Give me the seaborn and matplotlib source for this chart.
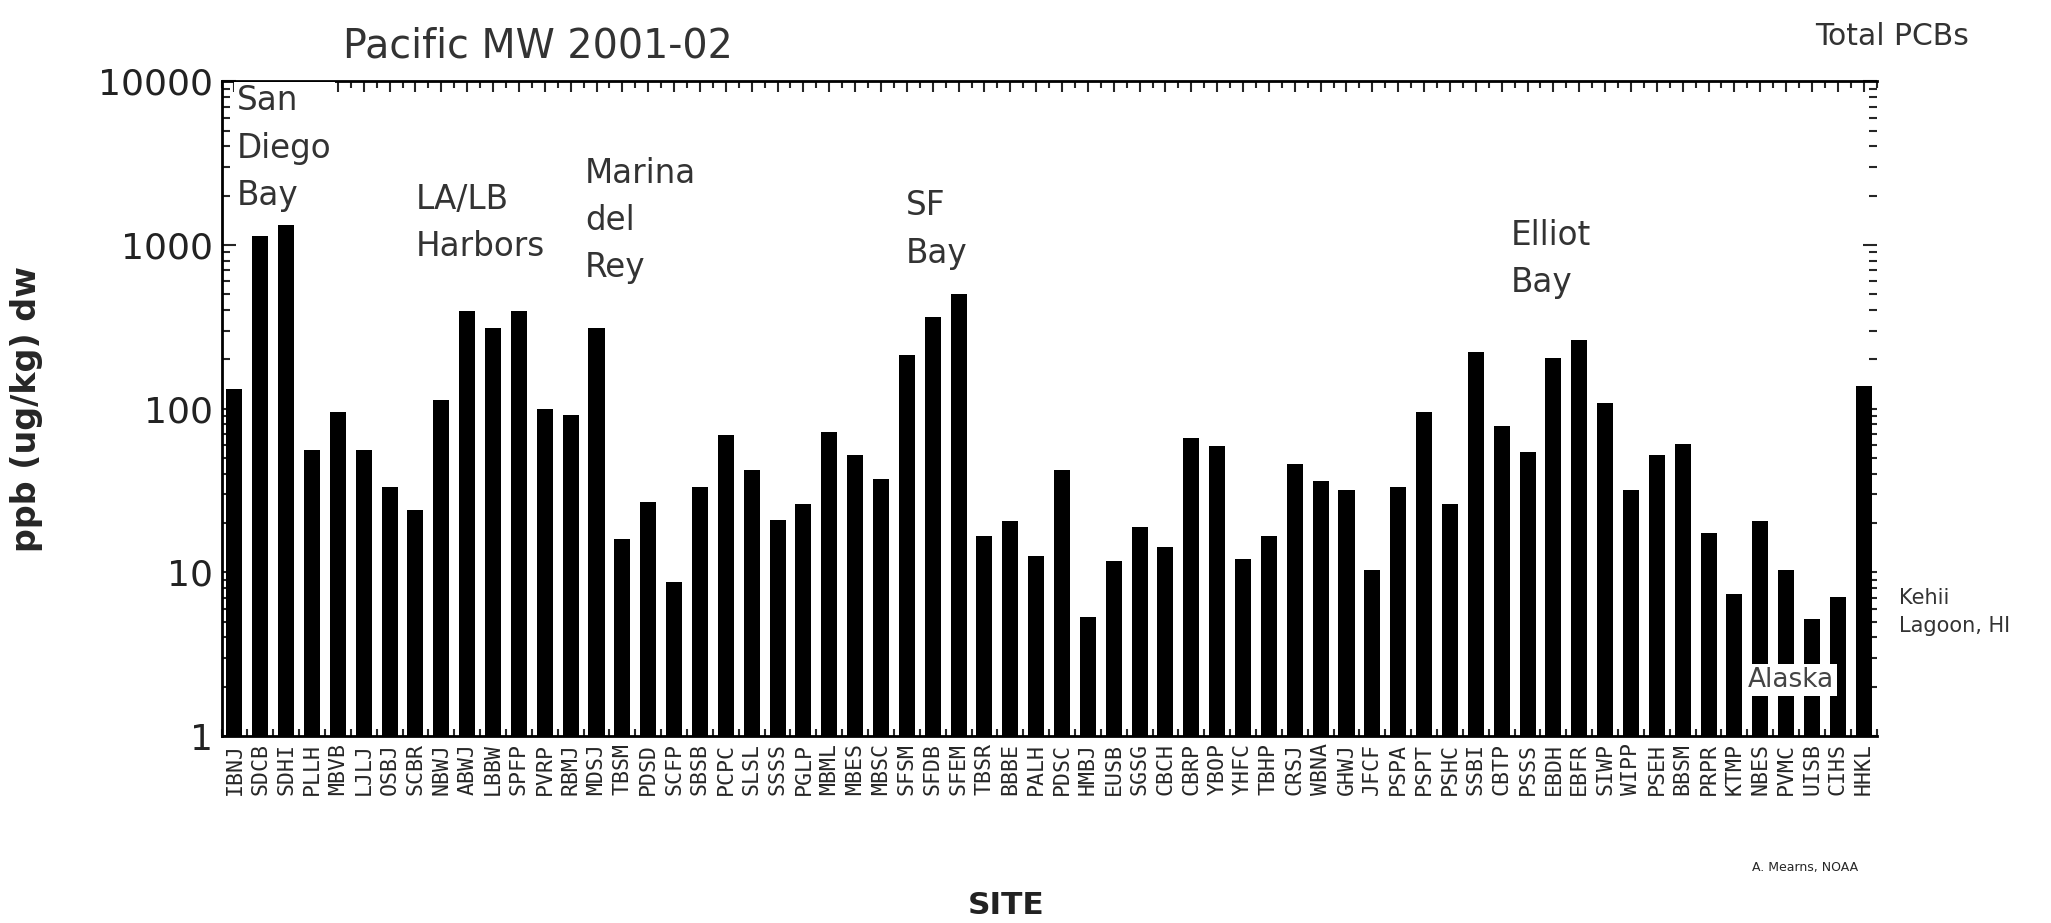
import numpy as np
import pandas as pd
import seaborn as sns
import matplotlib.pyplot as plt
from matplotlib.ticker import FixedLocator, LogLocator, NullFormatter, MultipleLocator

sites = ['IBNJ', 'SDCB', 'SDHI', 'PLLH', 'MBVB', 'LJLJ', 'OSBJ', 'SCBR', 'NBWJ', 'ABWJ',
         'LBBW', 'SPFP', 'PVRP', 'RBMJ', 'MDSJ', 'TBSM', 'PDSD', 'SCFP', 'SBSB', 'PCPC',
         'SLSL', 'SSSS', 'PGLP', 'MBML', 'MBES', 'MBSC', 'SFSM', 'SFDB', 'SFEM', 'TBSR',
         'BBBE', 'PALH', 'PDSC', 'HMBJ', 'EUSB', 'SGSG', 'CBCH', 'CBRP', 'YBOP', 'YHFC',
         'TBHP', 'CRSJ', 'WBNA', 'GHWJ', 'JFCF', 'PSPA', 'PSPT', 'PSHC', 'SSBI', 'CBTP',
         'PSSS', 'EBDH', 'EBFR', 'SIWP', 'WIPP', 'PSEH', 'BBSM', 'PRPR', 'KTMP', 'NBES',
         'PVMC', 'UISB', 'CIHS', 'HHKL']
pcb_ppb = [132, 1130, 1330, 56, 96, 56, 33, 24, 113, 392,
           309, 392, 99, 92, 309, 16, 27, 8.7, 33, 69,
           42, 21, 26, 72, 52, 37, 213, 361, 500, 16.7,
           20.5, 12.6, 42, 5.3, 11.7, 18.9, 14.3, 66.5, 58.7, 12.1,
           16.7, 46, 36, 31.8, 10.3, 33, 95, 26, 223, 78,
           54, 205, 262, 108, 32, 52, 61, 17.4, 7.4, 20.5,
           10.3, 5.2, 7.1, 138]
y_ticks = [1, 10, 100, 1000, 10000]
y_tick_labels = ['1', '10', '100', '1000', '10000']

# region labels: text, left position (bar index), top (axes fraction)
regions = [('San\nDiego\nBay', 0.1, 0.995),
           ('LA/LB\nHarbors', 7.0, 0.845),
           ('Marina\ndel\nRey', 13.55, 0.885),
           ('SF\nBay', 25.95, 0.835),
           ('Elliot\nBay', 49.35, 0.79)]

df = pd.DataFrame({'site': sites, 'ppb': pcb_ppb})

sns.set_style('white')
plt.rcParams['font.family'] = ['DejaVu Sans']

fig = plt.figure(figsize=(20.51, 9.23), dpi=100)
ax = fig.add_axes([0.108, 0.2026, 0.807, 0.7094])

sns.barplot(data=df, x='site', y='ppb', color='black', saturation=1,
            width=0.62, edgecolor='black', linewidth=0, ax=ax)
ax.set_yscale('log')
ax.set_ylim(1, 10000)
ax.set_xlim(-0.5, len(sites) - 0.5)

ax.yaxis.set_major_locator(FixedLocator(y_ticks))
ax.set_yticklabels(y_tick_labels, fontsize=26, color='#222222')
ax.yaxis.set_minor_locator(LogLocator(base=10, subs=np.arange(2, 10)))
ax.yaxis.set_minor_formatter(NullFormatter())
ax.xaxis.set_minor_locator(MultipleLocator(0.5))

ax.set_xticks(range(len(sites)))
ax.set_xticklabels(sites, rotation=90, fontsize=15.5, family='DejaVu Sans Mono')

ax.tick_params(axis='y', which='both', direction='in', left=True, right=True,
               width=1.5, pad=6)
ax.tick_params(axis='y', which='major', length=10)
ax.tick_params(axis='y', which='minor', length=6)
ax.tick_params(axis='x', which='both', direction='in', top=True, bottom=True,
               width=1.5, pad=5)
ax.tick_params(axis='x', which='major', length=8)
ax.tick_params(axis='x', which='minor', length=5)

for side in ['left', 'top', 'bottom']:
    ax.spines[side].set_linewidth(2)
    ax.spines[side].set_color('black')
ax.spines['right'].set_visible(False)

ax.set_xlabel('SITE', fontsize=22.5, fontweight='bold', color='#222222')
ax.xaxis.set_label_coords(0.474, -0.237)
ax.set_ylabel('ppb (ug/kg) dw', fontsize=24, fontweight='bold', labelpad=40)

for text, xpos, ypos in regions:
    ax.annotate(text, xy=(xpos, ypos), xycoords=('data', 'axes fraction'),
                ha='left', va='top', fontsize=23.5, color='#333333', linespacing=1.55,
                bbox=dict(facecolor='white', edgecolor='none', pad=2), zorder=5)

ax.annotate('Alaska', xy=(60.2, 0.085), xycoords=('data', 'axes fraction'),
            ha='center', va='center', fontsize=19, color='#444444',
            bbox=dict(facecolor='white', edgecolor='none', pad=2), zorder=5)

fig.text(0.167, 0.95, 'Pacific MW 2001-02', fontsize=28.5, color='#333333', va='center')
fig.text(0.96, 0.96, 'Total PCBs', fontsize=21.5, color='#333333', ha='right', va='center')
fig.text(0.926, 0.337, 'Kehii\nLagoon, HI', fontsize=15, color='#333333',
         va='center', linespacing=1.45)
fig.text(0.88, 0.06, 'A. Mearns, NOAA', fontsize=9, ha='center', va='center')

plt.savefig('out.png', dpi=100)
